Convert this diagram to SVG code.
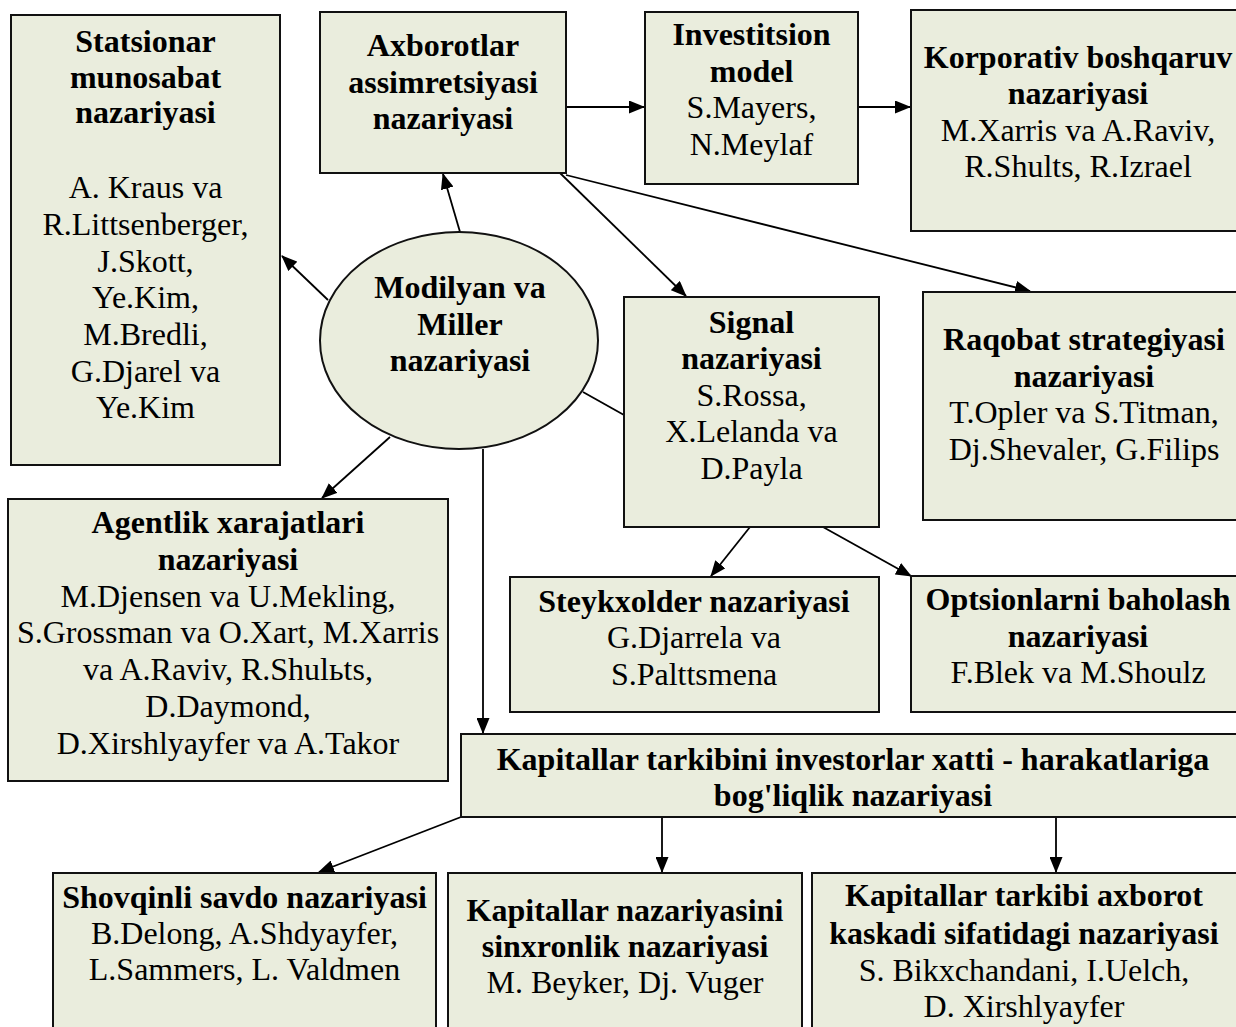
<svg xmlns="http://www.w3.org/2000/svg" width="1236" height="1027" viewBox="0 0 1236 1027">
<style>
.box{fill:#EAEDDD;stroke:#111;stroke-width:2}
.t{font-family:"Liberation Serif","Times New Roman",serif;font-size:32px;fill:#000;text-anchor:middle}
.b{font-weight:bold}
.c{stroke:#000;stroke-width:1.8;fill:none}
.a{marker-end:url(#ah)}
</style>
<defs>
<marker id="ah" viewBox="0 0 16 13" markerWidth="16" markerHeight="13" refX="15" refY="6.5" orient="auto" markerUnits="userSpaceOnUse">
<path d="M0,0 L16,6.5 L0,13 z" fill="#000"/>
</marker>
</defs>
<rect width="1236" height="1027" fill="#fff"/>

<g id="connectors">
<line class="c a" x1="460" y1="232" x2="443" y2="174"/>
<line class="c a" x1="328" y1="300" x2="282" y2="256"/>
<line class="c a" x1="390" y1="437" x2="322" y2="498"/>
<line class="c a" x1="483" y1="449" x2="483" y2="733"/>
<line class="c" x1="583" y1="392" x2="624" y2="415"/>
<line class="c a" x1="566" y1="107" x2="644" y2="107"/>
<line class="c a" x1="858" y1="107" x2="910" y2="107"/>
<line class="c a" x1="560" y1="173" x2="686" y2="296"/>
<line class="c a" x1="566" y1="175" x2="1030" y2="291"/>
<line class="c a" x1="750" y1="527" x2="711" y2="576"/>
<line class="c a" x1="823" y1="527" x2="911" y2="576"/>
<line class="c a" x1="461" y1="817" x2="319" y2="872"/>
<line class="c a" x1="662" y1="817" x2="662" y2="872"/>
<line class="c a" x1="1056" y1="817" x2="1056" y2="872"/>
</g>

<g id="statsionar">
<rect class="box" x="11" y="15" width="269" height="450"/>
<text class="t b" x="145.5" y="52">Statsionar</text>
<text class="t b" x="145.5" y="88">munosabat</text>
<text class="t b" x="145.5" y="123">nazariyasi</text>
<text class="t" x="145.5" y="198">A. Kraus va</text>
<text class="t" x="145.5" y="235">R.Littsenberger,</text>
<text class="t" x="145.5" y="271.5">J.Skott,</text>
<text class="t" x="145.5" y="308">Ye.Kim,</text>
<text class="t" x="145.5" y="345">M.Bredli,</text>
<text class="t" x="145.5" y="381.5">G.Djarel va</text>
<text class="t" x="145.5" y="418">Ye.Kim</text>
</g>

<g id="axborotlar">
<rect class="box" x="320" y="12" width="246" height="161"/>
<text class="t b" x="443" y="56">Axborotlar</text>
<text class="t b" x="443" y="93">assimretsiyasi</text>
<text class="t b" x="443" y="129">nazariyasi</text>
</g>

<g id="investitsion">
<rect class="box" x="645" y="12" width="213" height="172"/>
<text class="t b" x="751.5" y="45">Investitsion</text>
<text class="t b" x="751.5" y="82">model</text>
<text class="t" x="751.5" y="118">S.Mayers,</text>
<text class="t" x="751.5" y="155">N.Meylaf</text>
</g>

<g id="korporativ">
<rect class="box" x="911" y="10" width="340" height="221"/>
<text class="t b" x="1078" y="68">Korporativ boshqaruv</text>
<text class="t b" x="1078" y="104">nazariyasi</text>
<text class="t" x="1078" y="141">M.Xarris va A.Raviv,</text>
<text class="t" x="1078" y="177">R.Shults, R.Izrael</text>
</g>

<g id="modilyan">
<ellipse class="box" cx="459" cy="340.5" rx="139" ry="108.5"/>
<text class="t b" x="460" y="298">Modilyan va</text>
<text class="t b" x="460" y="335">Miller</text>
<text class="t b" x="460" y="371">nazariyasi</text>
</g>

<g id="signal">
<rect class="box" x="624" y="297" width="255" height="230"/>
<text class="t b" x="751.5" y="333">Signal</text>
<text class="t b" x="751.5" y="369">nazariyasi</text>
<text class="t" x="751.5" y="406">S.Rossa,</text>
<text class="t" x="751.5" y="442">X.Lelanda va</text>
<text class="t" x="751.5" y="479">D.Payla</text>
</g>

<g id="raqobat">
<rect class="box" x="923" y="292" width="330" height="228"/>
<text class="t b" x="1084" y="350">Raqobat strategiyasi</text>
<text class="t b" x="1084" y="387">nazariyasi</text>
<text class="t" x="1084" y="423">T.Opler va S.Titman,</text>
<text class="t" x="1084" y="460">Dj.Shevaler, G.Filips</text>
</g>

<g id="agentlik">
<rect class="box" x="8" y="499" width="440" height="282"/>
<text class="t b" x="228" y="533">Agentlik xarajatlari</text>
<text class="t b" x="228" y="570">nazariyasi</text>
<text class="t" x="228" y="607">M.Djensen va U.Mekling,</text>
<text class="t" x="228" y="643">S.Grossman va O.Xart, M.Xarris</text>
<text class="t" x="228" y="680">va A.Raviv, R.Shulьts,</text>
<text class="t" x="228" y="717">D.Daymond,</text>
<text class="t" x="228" y="754">D.Xirshlyayfer va A.Takor</text>
</g>

<g id="steykxolder">
<rect class="box" x="510" y="577" width="369" height="135"/>
<text class="t b" x="694" y="612">Steykxolder nazariyasi</text>
<text class="t" x="694" y="648">G.Djarrela va</text>
<text class="t" x="694" y="685">S.Palttsmena</text>
</g>

<g id="optsionlarni">
<rect class="box" x="911" y="576" width="340" height="136"/>
<text class="t b" x="1078" y="610">Optsionlarni baholash</text>
<text class="t b" x="1078" y="647">nazariyasi</text>
<text class="t" x="1078" y="683">F.Blek va M.Shoulz</text>
</g>

<g id="kapitallar">
<rect class="box" x="461" y="734" width="785" height="83"/>
<text class="t b" x="853" y="770">Kapitallar tarkibini investorlar xatti - harakatlariga</text>
<text class="t b" x="853" y="806">bog'liqlik nazariyasi</text>
</g>

<g id="shovqinli">
<rect class="box" x="53" y="873" width="383" height="165"/>
<text class="t b" x="244.5" y="908">Shovqinli savdo nazariyasi</text>
<text class="t" x="244.5" y="944">B.Delong, A.Shdyayfer,</text>
<text class="t" x="244.5" y="980">L.Sammers, L. Valdmen</text>
</g>

<g id="sinxronlik">
<rect class="box" x="448" y="873" width="354" height="165"/>
<text class="t b" x="625" y="921">Kapitallar nazariyasini</text>
<text class="t b" x="625" y="957">sinxronlik nazariyasi</text>
<text class="t" x="625" y="993">M. Beyker, Dj. Vuger</text>
</g>

<g id="kaskad">
<rect class="box" x="812" y="873" width="430" height="165"/>
<text class="t b" x="1024" y="906">Kapitallar tarkibi axborot</text>
<text class="t b" x="1024" y="944">kaskadi sifatidagi nazariyasi</text>
<text class="t" x="1024" y="981">S. Bikxchandani, I.Uelch,</text>
<text class="t" x="1024" y="1017">D. Xirshlyayfer</text>
</g>
</svg>
